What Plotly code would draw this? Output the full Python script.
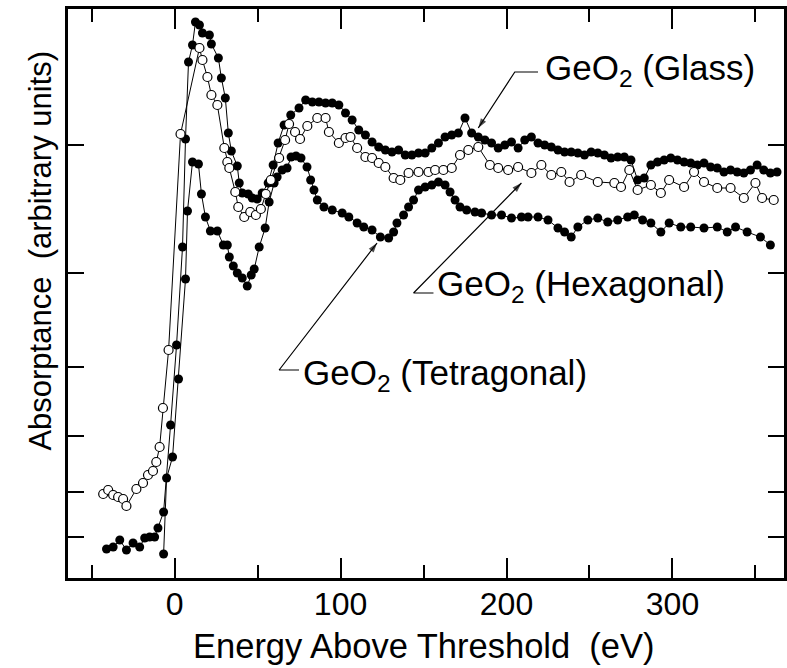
import plotly.graph_objects as go

# ---------------- data (x: eV above threshold, y: arbitrary units) ----------------
glass_x = [-41, -37, -33, -29, -25, -21, -18, -15, -12, -10,
           -6.6, -2.4, 1.2, 4.8, 6.6, 8.4, 10.8, 12.6, 15, 16.8, 21, 22.2, 26.4, 28.2, 30.6,
           32.4, 34.2, 37.8, 39, 40.8, 44.4, 46.8, 49.8, 52.8, 56.4, 59.4, 62.4, 66, 70, 75, 79,
           83, 87, 91, 95, 99, 103, 107, 111, 115, 119, 123, 127, 131, 135, 139, 143, 147, 151,
           155, 159, 163, 167, 171, 175, 179, 183, 187, 191, 195, 199, 203, 207, 211, 215, 219,
           223, 227, 231, 235, 239, 243, 247, 251, 255, 259, 263, 267, 271, 275, 279, 283, 287,
           291, 295, 299, 303, 307, 311, 315, 319, 323, 327, 331, 335, 339, 343, 347, 351, 355,
           359, 363]
glass_y = [31, 33, 40, 30, 37, 33, 42, 43, 43, 52,
           68, 155, 235, 333, 441, 518, 535, 558, 555, 547, 545, 536, 522, 502, 482,
           447, 429, 414, 397, 387, 386, 382, 381, 387, 397, 415, 437, 455, 465, 472, 480,
           478, 478, 477, 477, 475, 467, 460, 450, 445, 438, 433, 430, 428, 430, 425, 425, 427, 427,
           432, 437, 443, 445, 447, 462, 447, 443, 440, 437, 432, 435, 438, 432, 440, 443, 437,
           435, 433, 430, 428, 428, 427, 425, 428, 427, 425, 422, 423, 423, 420, 400, 402, 415,
           418, 420, 422, 420, 418, 417, 415, 417, 413, 412, 408, 410, 408, 407, 410, 415, 410,
           407, 408]

hex_x = [-43, -40, -37, -34, -31, -29, -23, -19, -16, -13, -11, -9, -7, -3.6, 3.6, 15, 16.8,
         19.8, 22.2, 25.8, 30, 31.8, 33, 36.6, 38.4, 42, 45.6, 49, 52, 55, 58, 63, 66.6, 69,
         72.6, 75.6, 80, 86, 91, 93, 99, 103, 106, 110, 115, 119, 123, 127, 132, 136, 141, 147,
         153, 157, 162, 167, 172, 177, 183, 190, 195, 201, 207, 215, 221, 227, 233, 238, 245,
         255, 265, 269, 274, 279, 287, 293, 298, 307, 313, 319, 327, 335, 343, 350, 354, 361]
hex_y = [86, 90, 85, 83, 81, 74, 91, 97, 105, 109, 118, 133, 172, 230, 446, 532, 520,
         503, 485, 475, 432, 418, 412, 388, 373, 363, 368, 365, 371, 386, 400, 422, 440, 456,
         448, 441, 454, 462, 462, 448, 437, 442, 443, 432, 423, 422, 417, 413, 402, 400, 407, 408,
         408, 410, 410, 412, 425, 430, 433, 415, 412, 410, 413, 407, 415, 405, 408, 398, 405,
         398, 397, 393, 410, 390, 395, 387, 400, 393, 408, 398, 392, 392, 382, 397, 382, 380]

tet_x = [-6.6, -4.8, -1.2, 2.4, 6.6, 7.8, 10.8, 14.4, 16.2, 18.6, 21.6, 25.8, 29.4, 31.8, 33,
         35.4, 37.8, 40.8, 43.8, 46.2, 48, 51, 54.6, 57, 60, 61.8, 64.8, 67.8, 70.2, 73.2, 76.2,
         79.8, 82, 84, 86, 90, 95, 101, 105, 110, 114, 119, 124, 129, 132, 134, 138, 141, 144,
         147, 151, 155, 159, 163, 166, 169, 172, 176, 181, 185, 191, 197, 203, 209, 213, 219,
         225, 231, 235, 239, 243, 249, 255, 261, 267, 273, 277, 282, 287, 293, 298, 305, 311,
         319, 327, 333, 338, 345, 353, 359]
tet_y = [26, 102, 123, 201, 301, 369, 418, 416, 386, 363, 349, 349, 335, 335, 323,
         314, 307, 302, 294, 305, 311, 333, 352, 378, 397, 403, 410, 412, 423, 424, 422,
         413, 400, 390, 380, 373, 370, 367, 363, 357, 353, 350, 343, 342, 348, 357, 365, 373, 380,
         390, 393, 395, 398, 395, 388, 380, 373, 370, 368, 367, 365, 365, 362, 363, 363, 363,
         360, 352, 348, 343, 353, 360, 362, 358, 360, 363, 365, 360, 357, 348, 357, 353, 353,
         352, 353, 348, 353, 348, 343, 335]

x_major = [0, 100, 200, 300]
x_major_text = ["0", "100", "200", "300"]
x_minor = [-50, 50, 150, 250, 350]
y_ticks = [43, 88, 144, 213, 307, 435]

labels = ["GeO<sub>2</sub>\u00a0(Glass)", "GeO<sub>2</sub>\u00a0(Hexagonal)", "GeO<sub>2</sub>\u00a0(Tetragonal)"]

FONT = "Liberation Sans, Arial, Helvetica, sans-serif"

fig = go.Figure()
line_style = dict(color="black", width=1)
fig.add_trace(go.Scatter(x=tet_x, y=tet_y, mode="lines+markers", line=line_style,
                         marker=dict(size=9, color="black"), name="Tetragonal"))
fig.add_trace(go.Scatter(x=glass_x, y=glass_y, mode="lines+markers", line=line_style,
                         marker=dict(size=9, color="black"), name="Glass"))
fig.add_trace(go.Scatter(x=hex_x, y=hex_y, mode="lines+markers", line=line_style,
                         marker=dict(size=9, color="white", line=dict(color="black", width=1.2)),
                         name="Hexagonal"))

# leader lines: horizontal stub at the label, then a diagonal arrow to the curve
leaders = [
    dict(tip=(183, 452), bend=(205, 508), hend=(219, 508), text_pos=(222, 510), text=labels[0]),
    dict(tip=(209, 397), bend=(144, 287), hend=(156, 287), text_pos=(157, 294), text=labels[1]),
    dict(tip=(122, 337), bend=(63, 210), hend=(75, 210), text_pos=(76, 205), text=labels[2]),
]
for ld in leaders:
    fig.add_trace(go.Scatter(x=[ld["hend"][0], ld["bend"][0], ld["tip"][0]],
                             y=[ld["hend"][1], ld["bend"][1], ld["tip"][1]],
                             mode="lines+markers", line=dict(color="black", width=1.2),
                             marker=dict(symbol="arrow", angleref="previous", size=[0, 0, 10],
                                         color="black", line=dict(width=0)),
                             hoverinfo="skip", showlegend=False))
    fig.add_annotation(x=ld["text_pos"][0], y=ld["text_pos"][1], xref="x", yref="y",
                       text=ld["text"], showarrow=False, xanchor="left", yanchor="middle",
                       font=dict(family=FONT, size=35, color="black"))

# axis titles
fig.add_annotation(text="Energy Above Threshold\u00a0\u00a0(eV)", xref="paper", yref="paper",
                   x=0.497, y=-0.12, xanchor="center", yanchor="middle", showarrow=False,
                   font=dict(family=FONT, size=34.5, color="black"))
fig.add_annotation(text="Absorptance\u00a0\u00a0(arbitrary units)", xref="paper", yref="paper",
                   x=-0.038, y=0.575, xanchor="center", yanchor="middle", showarrow=False,
                   textangle=-90, font=dict(family=FONT, size=31, color="black"))

fig.update_xaxes(range=[-64.2, 367.2], tickvals=x_major, ticktext=x_major_text,
                 ticks="inside", ticklen=20, tickwidth=2, tickcolor="black",
                 ticklabelstandoff=-4,
                 minor=dict(tickvals=x_minor, ticks="inside", ticklen=13,
                            tickwidth=2, tickcolor="black"),
                 showline=True, linewidth=2.5, linecolor="black", mirror="allticks",
                 showgrid=False, zeroline=False,
                 tickfont=dict(family=FONT, size=32, color="black"))
fig.update_yaxes(range=[2, 571], tickvals=y_ticks, showticklabels=False,
                 ticks="inside", ticklen=16, tickwidth=2, tickcolor="black",
                 showline=True, linewidth=2.5, linecolor="black", mirror="allticks",
                 showgrid=False, zeroline=False)

fig.update_layout(width=787, height=668, margin=dict(l=68, r=0, t=9, b=90),
                  plot_bgcolor="white", paper_bgcolor="white", showlegend=False)

fig.write_html("out.html")
